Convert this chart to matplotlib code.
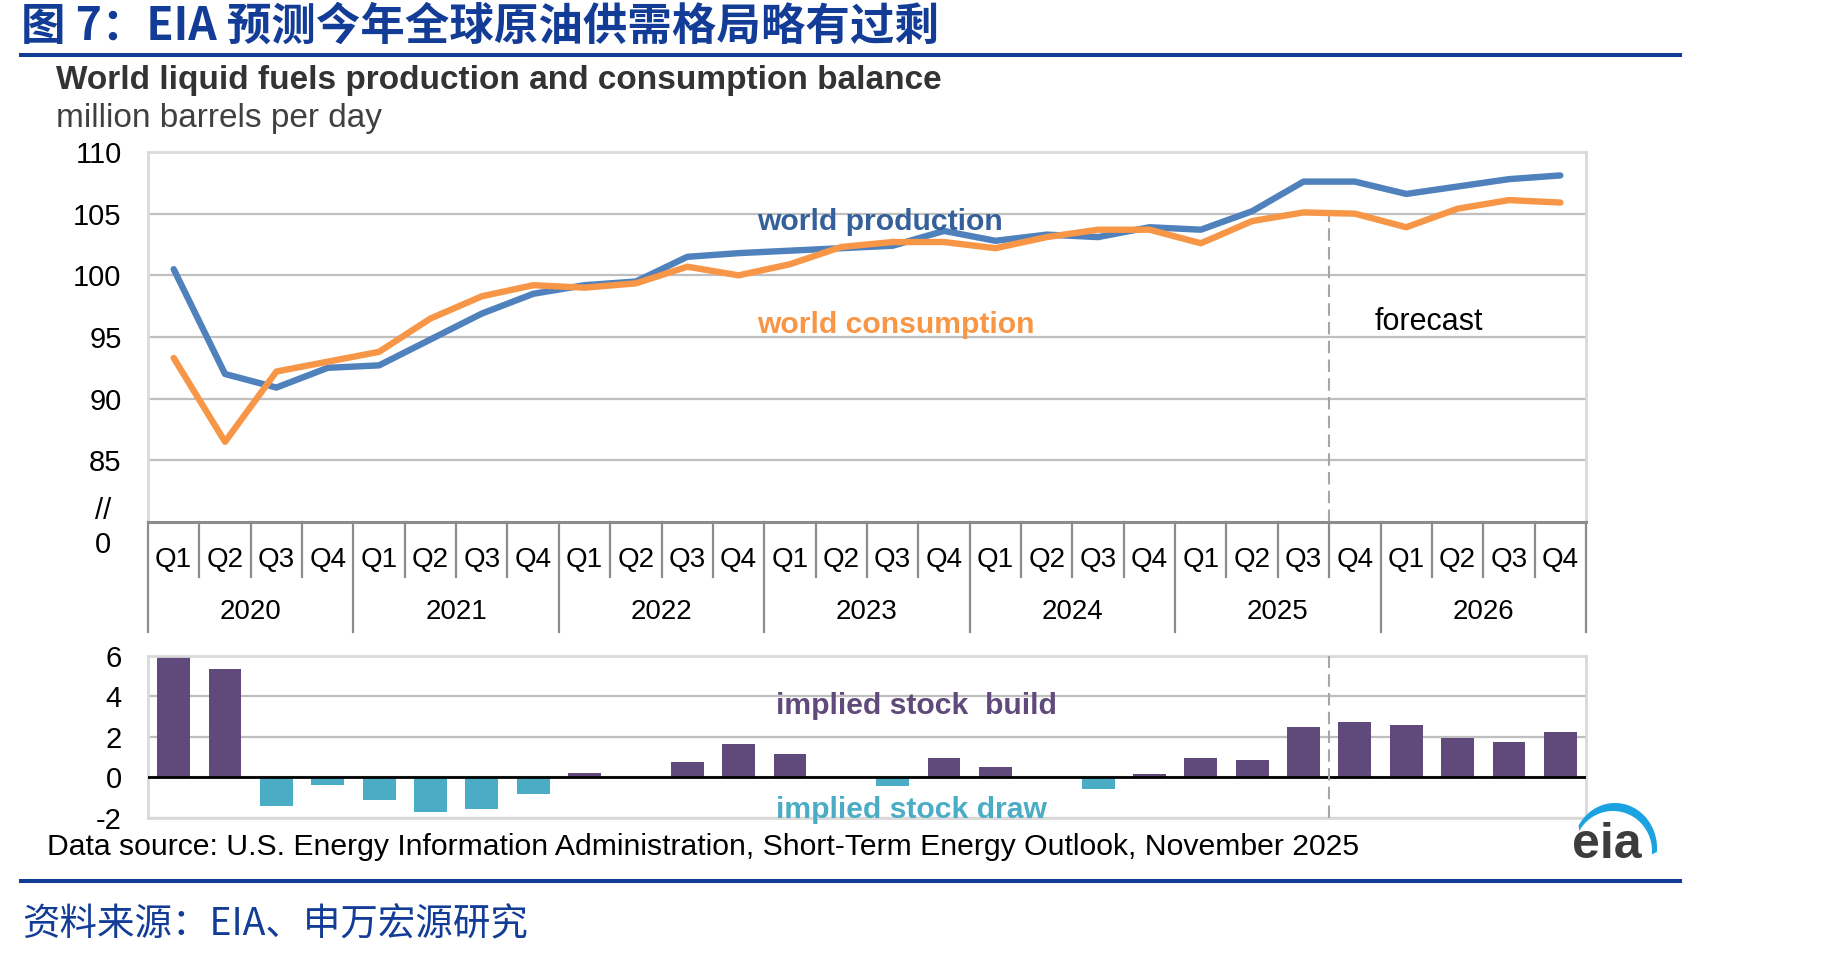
import matplotlib
matplotlib.use('Agg')
import matplotlib.pyplot as plt
import numpy as np
from matplotlib.patches import Polygon

plt.rcParams['font.family'] = ['Liberation Sans', 'Noto Sans CJK SC', 'DejaVu Sans']
plt.rcParams['axes.unicode_minus'] = False

# quarterly data 2020Q1 - 2026Q4
years = ['2020', '2021', '2022', '2023', '2024', '2025', '2026']
quarters = ['Q1', 'Q2', 'Q3', 'Q4']
production = [100.5, 92.0, 90.9, 92.5, 92.7, 94.8, 96.9, 98.5, 99.2, 99.5,
              101.5, 101.8, 102.0, 102.2, 102.4, 103.6, 102.8, 103.3, 103.1, 103.9,
              103.7, 105.2, 107.6, 107.6, 106.6, 107.2, 107.8, 108.1]
consumption = [93.3, 86.5, 92.2, 93.0, 93.8, 96.5, 98.3, 99.2, 99.0, 99.35,
               100.7, 100.0, 100.9, 102.3, 102.7, 102.7, 102.2, 103.1, 103.7, 103.7,
               102.6, 104.4, 105.1, 105.0, 103.9, 105.4, 106.1, 105.9]
stock_change = [6.0, 5.35, -1.41, -0.39, -1.11, -1.70, -1.56, -0.82, 0.2, 0.03,
                0.75, 1.64, 1.15, -0.03, -0.44, 0.95, 0.52, 0.03, -0.59, 0.16,
                0.98, 0.87, 2.49, 2.72, 2.57, 1.93, 1.74, 2.23]
forecast_start = 23  # 2025Q4

W, H = 1849, 958
navy = '#123C96'
blue = '#4F81BD'
orange = '#F79646'
purple = '#604A7B'
cyan = '#4BACC6'
cjk = ['Noto Sans CJK SC', 'Liberation Sans']


def fx(px):
    return px / W


def fy(py):
    return 1 - py / H


fig = plt.figure(figsize=(W / 100, H / 100), dpi=100)

# header / footer
fig.text(fx(21), fy(27), '图 7：EIA 预测今年全球原油供需格局略有过剩', fontsize=32,
         fontweight='heavy', color=navy, family=cjk, ha='left', va='center')
for py in (55, 881):
    fig.add_artist(plt.Line2D([fx(21), fx(1680)], [fy(py), fy(py)], color=navy, lw=2.9))
fig.text(fx(56), fy(80), 'World liquid fuels production and consumption balance',
         fontsize=24, fontweight='bold', color='#333333', va='center')
fig.text(fx(56), fy(119), 'million barrels per day', fontsize=24, color='#404040', va='center')
fig.text(fx(47), fy(847), 'Data source: U.S. Energy Information Administration, '
         'Short-Term Energy Outlook, November 2025', fontsize=21.7, color='black', va='center')
fig.text(fx(22), fy(925), '资料来源：EIA、申万宏源研究', fontsize=27, color=navy,
         family=cjk, va='center')

x = np.arange(len(production))

# top chart: production vs consumption
ax = fig.add_axes([fx(148), fy(522), fx(1586) - fx(148), (522 - 152) / H])
ax.plot(x, production, color=blue, lw=4.6, solid_capstyle='round', zorder=3)
ax.plot(x, consumption, color=orange, lw=4.6, solid_capstyle='round', zorder=3)
ax.vlines(forecast_start - 0.5, 80, 105, color='#A6A6A6', lw=1.5, linestyles=(0, (6, 3)), zorder=2)
ax.set_xlim(-0.5, 27.5)
ax.set_ylim(80, 110)
ax.set_yticks([85, 90, 95, 100, 105, 110])
ax.set_xticks([])
ax.tick_params(axis='y', length=0, pad=19, labelsize=21)
ax.yaxis.grid(True, color='#BFBFBF', lw=1.6)
ax.set_axisbelow(True)
for s in ('left', 'top', 'right'):
    ax.spines[s].set_color('#D9D9D9')
    ax.spines[s].set_linewidth(2)
ax.spines['bottom'].set_color('#8C8C8C')
ax.spines['bottom'].set_linewidth(2.2)

fig.text(fx(103), fy(511), '//', fontsize=21, ha='center', va='center')
fig.text(fx(103), fy(545), '0', fontsize=21, ha='center', va='center')

tr = ax.get_xaxis_transform()
for i in x:
    ax.text(i, -0.103, quarters[i % 4], transform=tr, ha='center', va='center', fontsize=20)
for k, yr in enumerate(years):
    ax.text(4 * k + 1.5, -0.243, yr, transform=tr, ha='center', va='center', fontsize=20)
for i in range(len(x) + 1):
    depth = -0.297 if i % 4 == 0 else -0.149
    ax.plot([i - 0.5, i - 0.5], [0, depth], transform=tr, color='#8C8C8C', lw=1.6, clip_on=False)

ax.text(11.36, 104.3, 'world production', color='#35609A', fontsize=21.7,
        fontweight='bold', va='center')
ax.text(11.36, 96.0, 'world consumption', color=orange, fontsize=21.7,
        fontweight='bold', va='center')
ax.text(23.39, 96.2, 'forecast', color='black', fontsize=22, va='center')

# bottom chart: implied stock change
bx = fig.add_axes([fx(148), fy(818), fx(1586) - fx(148), (818 - 655.7) / H])
bar_colors = [purple if v >= 0 else cyan for v in stock_change]
bx.bar(x, stock_change, width=0.64, color=bar_colors, zorder=2)
bx.axhline(0, color='black', lw=2, zorder=3)
bx.axvline(forecast_start - 0.5, color='#A6A6A6', lw=1.5, ls=(0, (6, 3)), zorder=4)
bx.set_xlim(-0.5, 27.5)
bx.set_ylim(-2, 6)
bx.set_yticks([-2, 0, 2, 4, 6])
bx.set_xticks([])
bx.tick_params(axis='y', length=0, pad=19, labelsize=21)
bx.yaxis.grid(True, color='#BFBFBF', lw=1.6)
bx.set_axisbelow(True)
for s in bx.spines.values():
    s.set_color('#D9D9D9')
    s.set_linewidth(2)
bx.text(11.73, 3.53, 'implied stock  build', color=purple, fontsize=21.7,
        fontweight='bold', va='center')
bx.text(11.73, -1.59, 'implied stock draw', color=cyan, fontsize=21.7,
        fontweight='bold', va='center')

# eia logo
lx = fig.add_axes([fx(1560), fy(870), 110 / W, 75 / H])
lx.set_xlim(0, 110)
lx.set_ylim(0, 75)
lx.axis('off')
t_out = np.radians(np.linspace(150, -5, 60))
t_in = t_out[::-1]
outer = np.column_stack([55 + 42 * np.cos(t_out), 22 + 45 * np.sin(t_out)])
inner = np.column_stack([53 + 39 * np.cos(t_in), 19 + 40 * np.sin(t_in)])
lx.add_patch(Polygon(np.vstack([outer, inner]), closed=True, color='#1AA3E0', lw=0))
lx.text(47, 12, 'eia', fontsize=36, fontweight='bold', color='#3C3C3C', ha='center', va='baseline')

fig.savefig('out.png', dpi=100)
